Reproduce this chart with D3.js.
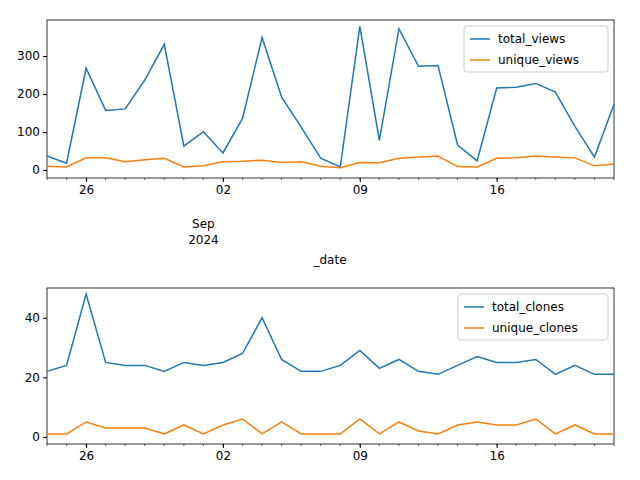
<!DOCTYPE html>
<html><head><meta charset="utf-8">
<script src="https://cdn.jsdelivr.net/npm/d3@7"></script>
<style>body{margin:0;background:#fff}text{font-family:"DejaVu Sans",sans-serif;font-size:12px;fill:#000}</style>
</head><body>
<svg id="c" width="640" height="480"></svg>
<script>
const totalViews = [37,18,268,157,161,237,331,63,101,45,136,349,192,113,31,8,378,78,372,273,275,66,24,216,218,228,205,115,34,173];
const uniqueViews = [10,8,32,32,22,27,31,8,11,22,23,26,20,22,10,6,20,19,31,34,37,9,8,31,32,37,34,32,11,16];
const totalClones = [22,24,48,25,24,24,22,25,24,25,28,40,26,22,22,24,29,23,26,22,21,24,27,25,25,26,21,24,21,21];
const uniqueClones = [1,1,5,3,3,3,1,4,1,4,6,1,5,1,1,1,6,1,5,2,1,4,5,4,4,6,1,4,1,1];
const dates = totalViews.map((_, i) => new Date(2024, 7, 24 + i));
const tickDates = [new Date(2024,7,26), new Date(2024,8,2), new Date(2024,8,9), new Date(2024,8,16)];
const svg = d3.select("#c");
const colors = ["#1f77b4", "#ff7f0e"];

function panel(top, bottom, series, names, yMin, yMax, yTicks, legendW, showDateLabel) {
  const x = d3.scaleTime().domain([dates[0], dates[dates.length-1]]).range([47, 614]);
  const y = d3.scaleLinear().domain([yMin, yMax]).range([bottom, top]);
  const g = svg.append("g");
  g.append("g").attr("transform", `translate(0,${bottom})`)
    .call(d3.axisBottom(x).tickValues(tickDates).tickFormat(d3.timeFormat("%d")).tickSizeOuter(0).tickSize(4));
  g.append("g").attr("transform", `translate(0,${bottom})`)
    .selectAll("line").data(dates).join("line")
    .attr("x1", d => x(d)).attr("x2", d => x(d)).attr("y2", 2).attr("stroke", "#000").attr("stroke-width", 0.6);
  g.append("g").attr("transform", "translate(47,0)").call(d3.axisLeft(y).tickValues(yTicks).tickSizeOuter(0).tickSize(4));
  g.selectAll(".domain").remove();
  g.selectAll(".tick text").style("font-size", "12px");
  g.append("rect").attr("x", 47).attr("y", top).attr("width", 567).attr("height", bottom - top)
    .attr("fill", "none").attr("stroke", "#000").attr("stroke-width", 0.8);
  const line = d3.line().x((d, i) => x(dates[i])).y(d => y(d));
  series.forEach((s, k) => g.append("path").attr("d", line(s)).attr("fill", "none")
    .attr("stroke", colors[k]).attr("stroke-width", 1.5));
  const lx = 614 - legendW - 6, ly = top + 6;
  g.append("rect").attr("x", lx).attr("y", ly).attr("width", legendW).attr("height", 46).attr("rx", 3)
    .attr("fill", "#fff").attr("fill-opacity", 0.8).attr("stroke", "#ccc");
  names.forEach((n, k) => {
    g.append("line").attr("x1", lx + 6).attr("x2", lx + 26).attr("y1", ly + 13 + k*21).attr("y2", ly + 13 + k*21)
      .attr("stroke", colors[k]).attr("stroke-width", 1.5);
    g.append("text").attr("x", lx + 34).attr("y", ly + 17 + k*21).text(n);
  });
  if (showDateLabel) {
    const sx = x(new Date(2024,8,1));
    g.append("text").attr("x", sx).attr("y", bottom + 50).attr("text-anchor", "middle").text("Sep");
    g.append("text").attr("x", sx).attr("y", bottom + 66).attr("text-anchor", "middle").text("2024");
    g.append("text").attr("x", 330).attr("y", bottom + 86).attr("text-anchor", "middle").text("_date");
  }
}
panel(20, 178, [totalViews, uniqueViews], ["total_views", "unique_views"], -21, 395, [0,100,200,300], 144, true);
panel(288, 444, [totalClones, uniqueClones], ["total_clones", "unique_clones"], -2.4, 50, [0,20,40], 150, false);
</script>
</body></html>
